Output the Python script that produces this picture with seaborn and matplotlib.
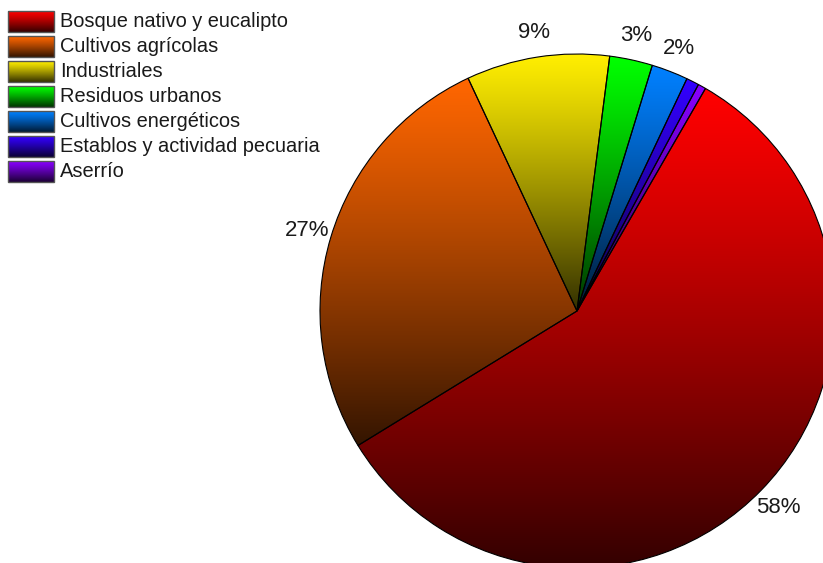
import numpy as np
import matplotlib
matplotlib.use("Agg")
import matplotlib.pyplot as plt
import matplotlib.colors as mcolors
from matplotlib.patches import Rectangle
import seaborn as sns

sns.set_theme(style="white")
plt.rcParams["font.family"] = ["Liberation Sans", "DejaVu Sans"]

# Biomass sources and their share (%)
categories = [
    "Bosque nativo y eucalipto",
    "Cultivos agrícolas",
    "Industriales",
    "Residuos urbanos",
    "Cultivos energéticos",
    "Establos y actividad pecuaria",
    "Aserrío",
]
shares = [57.9, 26.8, 9.0, 2.7, 2.3, 0.8, 0.5]
colors = ["#ff0000", "#ff6600", "#ffee00", "#00ff00", "#0080ff", "#3300ff", "#8800ff"]

W, H = 823, 563
fig = plt.figure(figsize=(W / 100, H / 100), dpi=100)
ax = fig.add_axes([0, 0, 1, 1])

center = (577, H - 311)
radius = 257


def gradient_cmap(c):
    rgb = np.array(mcolors.to_rgb(c))
    t = np.linspace(0, 1, 32)
    shade = 0.2 + 0.8 * (1 - (1 - t) ** 1.15)
    return mcolors.LinearSegmentedColormap.from_list(
        "g", [tuple(rgb * s) for s in shade])


def label_pct(p):
    return f"{p:.0f}%" if p >= 1.5 else ""


wedges, _, autotexts = ax.pie(
    shares,
    colors=colors,
    startangle=60,
    counterclock=False,
    radius=radius,
    center=center,
    autopct=label_pct,
    pctdistance=1.095,
    wedgeprops=dict(edgecolor="black", linewidth=0.8),
    textprops=dict(fontsize=16, color="#1a1a1a"),
    frame=True,
)
ax.set_xlim(0, W)
ax.set_ylim(0, H)
ax.set_aspect("equal")
ax.axis("off")

# Vertical shading inside each wedge
grad = np.linspace(0, 1, 256).reshape(-1, 1)
for w, c in zip(wedges, colors):
    path = w.get_path().transformed(w.get_patch_transform())
    ext = path.get_extents()
    im = ax.imshow(
        grad,
        cmap=gradient_cmap(c),
        origin="lower",
        extent=[ext.x0, ext.x1, ext.y0, ext.y1],
        aspect="auto",
        zorder=w.get_zorder() - 0.1,
        interpolation="bilinear",
    )
    im.set_clip_path(w)
    w.set_facecolor("none")

# Legend with shaded swatches
for i, (name, c) in enumerate(zip(categories, colors)):
    top = H - (11 + 25 * i)
    y0 = top - 21
    ax.imshow(
        grad,
        cmap=gradient_cmap(c),
        origin="lower",
        extent=[8, 54, y0, top],
        aspect="auto",
        zorder=3,
        interpolation="bilinear",
    )
    ax.add_patch(Rectangle((8, y0), 46, 21, fill=False, edgecolor="#555555",
                           linewidth=1.0, zorder=4))
    ax.text(60, y0 + 10.5, name, fontsize=14.4, va="center", ha="left",
            color="#1a1a1a", zorder=4)

ax.set_xlim(0, W)
ax.set_ylim(0, H)
fig.savefig("out.png", dpi=100)
